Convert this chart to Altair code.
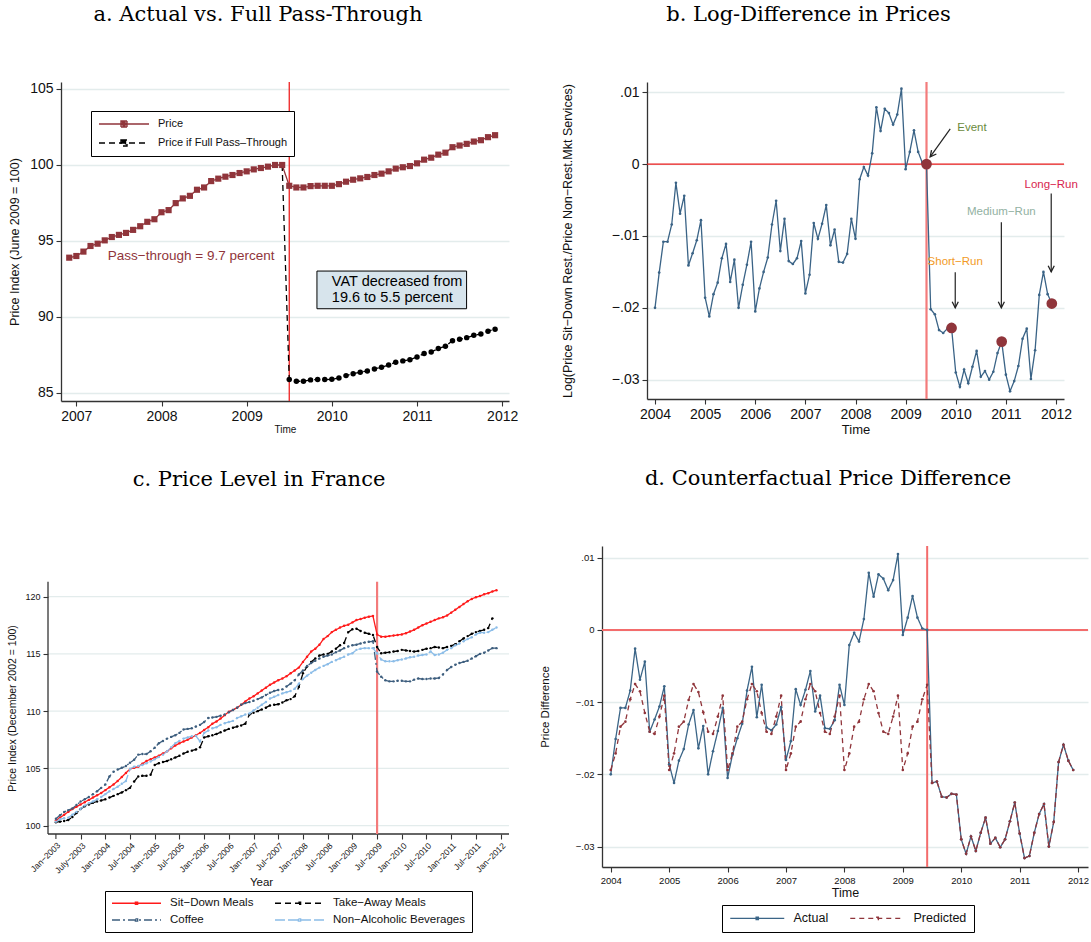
import altair as alt
import pandas as pd

SANS = "Liberation Sans"
SERIF = "DejaVu Serif"
GRID = "#e3ecec"
AXC = "#333333"
MAROON = "#90353b"

# ---------------- data: panel a ----------------
a_price = [93.90, 94.01, 94.30, 94.67, 94.82, 95.04, 95.26, 95.40, 95.53, 95.73, 95.97, 96.26,
           96.43, 96.89, 97.03, 97.49, 97.80, 97.97, 98.37, 98.52, 98.94, 99.10, 99.23, 99.34,
           99.47, 99.58, 99.71, 99.80, 99.89, 100.0, 100.0, 98.63, 98.52, 98.52, 98.61, 98.63,
           98.63, 98.63, 98.74, 98.90, 99.03, 99.12, 99.21, 99.34, 99.43, 99.58, 99.76, 99.85,
           99.93, 100.11, 100.35, 100.48, 100.68, 100.81, 101.17, 101.28, 101.39, 101.54, 101.63,
           101.83, 101.96]
a_full = [100.0, 85.88, 85.77, 85.77, 85.86, 85.88, 85.88, 85.90, 85.99, 86.14, 86.27, 86.36,
          86.45, 86.58, 86.69, 86.84, 87.02, 87.11, 87.19, 87.37, 87.59, 87.70, 87.92, 88.07,
          88.44, 88.53, 88.64, 88.79, 88.88, 89.06, 89.19]
a_series = ["Price", "Price if Full Pass\u2013Through"]
a_colors = [MAROON, "#000000"]
a_xticks = [2007, 2008, 2009, 2010, 2011, 2012]
a_yticks = [85, 90, 95, 100, 105]

# ---------------- data: panels b and d ----------------
logdiff_pre = [
    -0.0200, -0.0151, -0.0108, -0.0108, -0.0084, -0.0026, -0.0069, -0.0044, -0.0141, -0.0124, -0.0106, -0.0078,
    -0.0186, -0.0212, -0.0181, -0.0165, -0.0131, -0.0111, -0.0164, -0.0133, -0.0200, -0.0168, -0.0140, -0.0108,
    -0.0205, -0.0173, -0.0150, -0.0130, -0.0084, -0.0051, -0.0121, -0.0076, -0.0135, -0.0139, -0.0131, -0.0107,
    -0.0180, -0.0154, -0.0082, -0.0104, -0.0083, -0.0057, -0.0113, -0.0091, -0.0136, -0.0137, -0.0125, -0.0076,
    -0.0104, -0.0021, -0.0004, -0.0016, 0.0015, 0.0079, 0.0046, 0.0077, 0.0071, 0.0055, 0.0069, 0.0105,
    -0.0007, 0.0017, 0.0047, 0.0017, 0.0002, 0.0000]
b_post = [-0.0202, -0.0209, -0.0231, -0.0235, -0.0229, -0.0228,
          -0.0290, -0.0310, -0.0286, -0.0305, -0.0282, -0.0260, -0.0296, -0.0288, -0.0300, -0.0289, -0.0263, -0.0247,
          -0.0293, -0.0316, -0.0302, -0.0281, -0.0243, -0.0229, -0.0299, -0.0259, -0.0182, -0.0150, -0.0181, -0.0194]
d_post = [-0.0212, -0.0210, -0.0231, -0.0232, -0.0227, -0.0228,
          -0.0290, -0.0310, -0.0286, -0.0306, -0.0281, -0.0260, -0.0296, -0.0288, -0.0301, -0.0290, -0.0265, -0.0239,
          -0.0282, -0.0316, -0.0313, -0.0281, -0.0255, -0.0241, -0.0300, -0.0266, -0.0183, -0.0159, -0.0181, -0.0194]
d_pred_pre = [
    -0.0194, -0.0171, -0.0134, -0.0127, -0.0096, -0.0075, -0.0085, -0.0115, -0.0141, -0.0144, -0.0120, -0.0091,
    -0.0194, -0.0171, -0.0134, -0.0127, -0.0097, -0.0075, -0.0086, -0.0114, -0.0141, -0.0144, -0.0120, -0.0091,
    -0.0194, -0.0171, -0.0134, -0.0127, -0.0096, -0.0075, -0.0085, -0.0115, -0.0141, -0.0144, -0.0120, -0.0091,
    -0.0194, -0.0171, -0.0134, -0.0127, -0.0096, -0.0075, -0.0085, -0.0115, -0.0141, -0.0144, -0.0120, -0.0091,
    -0.0194, -0.0171, -0.0134, -0.0127, -0.0096, -0.0075, -0.0085, -0.0115, -0.0141, -0.0144, -0.0120, -0.0091,
    -0.0194, -0.0171, -0.0134, -0.0127, -0.0096, -0.0076]
b_events = ["Event", "Short\u2212Run", "Medium\u2212Run", "Long\u2212Run"]
b_event_t = [2009 + 5 / 12, 2009 + 11 / 12, 2010 + 11 / 12, 2011 + 11 / 12]
b_event_v = [0.0, -0.0228, -0.0247, -0.0194]
b_label_t = [2010.03, 2009.99, 2010.91, 2011.905]
b_label_v = [0.0050, -0.01366, -0.0067, -0.00286]
b_label_colors = ["#6b8a3c", "#f29a26", "#92b1a2", "#d81f4f"]
b_arrow_t1 = [2009.89, 2009.99, 2010.91, 2011.905]
b_arrow_v1 = [0.0049, -0.01505, -0.0081, -0.0041]
b_arrow_t2 = [2009.49, 2009.99, 2010.91, 2011.905]
b_arrow_v2 = [0.0010, -0.0200, -0.0200, -0.0150]
b_arrow_angle = [38, 0, 0, 0]
bd_xticks = [2004, 2005, 2006, 2007, 2008, 2009, 2010, 2011, 2012]
bd_yticks = [-0.03, -0.02, -0.01, 0, 0.01]
d_series = ["Actual", "Predicted"]
d_colors = ["#3b6587", MAROON]

# ---------------- data: panel c ----------------
c_sitdown = [
    100.45, 100.7, 100.95, 101.2, 101.45, 101.65, 101.85, 102.05, 102.25, 102.45, 102.65, 102.85,
    103.1, 103.35, 103.6, 103.9, 104.25, 104.6, 104.95, 105.05, 105.15, 105.4, 105.65, 105.8,
    105.95, 106.1, 106.3, 106.5, 106.75, 107.0, 107.2, 107.35, 107.5, 107.7, 107.9, 108.1,
    108.35, 108.6, 108.9, 109.1, 109.35, 109.65, 109.95, 110.1, 110.3, 110.55, 110.85, 111.1,
    111.3, 111.55, 111.8, 112.05, 112.3, 112.5, 112.7, 112.85, 113.05, 113.3, 113.55, 113.8,
    114.3, 114.75, 115.2, 115.45, 115.8, 116.3, 116.55, 116.9, 117.1, 117.3, 117.45, 117.55,
    117.75, 117.95, 118.05, 118.15, 118.25, 118.3, 116.7, 116.5, 116.5, 116.55, 116.6, 116.65,
    116.7, 116.8, 116.95, 117.1, 117.3, 117.5, 117.65, 117.8, 117.95, 118.1, 118.2, 118.35,
    118.6, 118.85, 119.1, 119.35, 119.6, 119.8, 119.95, 120.05, 120.2, 120.3, 120.45, 120.55]
c_takeaway = [
    100.3, 100.35, 100.4, 100.5, 100.75, 101.1, 101.45, 101.7, 101.85, 102.0, 102.1, 102.2,
    102.3, 102.45, 102.6, 102.75, 102.9, 103.1, 103.3, 103.85, 104.3, 104.35, 104.35, 104.45,
    105.3, 105.45, 105.55, 105.65, 105.8, 105.95, 106.1, 106.3, 106.45, 106.55, 106.65, 106.85,
    107.7, 107.8, 107.9, 108.0, 108.15, 108.3, 108.45, 108.55, 108.65, 108.75, 108.9, 109.7,
    109.85, 110.0, 110.15, 110.3, 110.5, 110.55, 110.6, 110.75, 110.95, 111.05, 111.3, 112.1,
    113.3, 113.9, 114.3, 114.6, 114.85, 114.95, 115.0, 115.2, 115.45, 115.75, 115.95, 116.9,
    117.15, 117.2, 117.0, 116.85, 116.75, 116.65, 115.6, 115.05, 115.1, 115.15, 115.2, 115.25,
    115.35, 115.3, 115.25, 115.2, 115.25, 115.35, 115.45, 115.5, 115.6, 115.55, 115.5, 115.6,
    115.7, 115.85, 116.1, 116.35, 116.55, 116.75, 116.9, 117.0, 117.1, 117.25, 118.1]
c_coffee = [
    100.6, 100.9, 101.2, 101.35, 101.5, 101.8, 102.1, 102.3, 102.5, 102.75, 103.0, 103.3,
    103.6, 104.3, 104.7, 104.9, 105.05, 105.2, 105.5, 105.75, 106.2, 106.25, 106.25, 106.5,
    106.8, 107.2, 107.4, 107.6, 107.75, 107.9, 108.1, 108.4, 108.45, 108.5, 108.65, 108.8,
    109.05, 109.4, 109.45, 109.5, 109.6, 109.7, 109.9, 110.1, 110.3, 110.55, 110.7, 110.8,
    110.9, 111.05, 111.2, 111.4, 111.6, 111.75, 111.85, 111.9, 112.15, 112.4, 112.7, 113.2,
    113.55, 113.95, 114.2, 114.4, 114.6, 114.75, 114.85, 114.95, 115.15, 115.3, 115.5, 115.65,
    115.75, 115.8, 115.9, 116.0, 116.05, 116.1, 113.45, 113.0, 112.7, 112.6, 112.6, 112.65,
    112.65, 112.6, 112.6, 112.75, 112.85, 112.8, 112.8, 112.85, 112.85, 112.9, 113.2, 113.6,
    113.85, 114.05, 114.2, 114.3, 114.4, 114.6, 114.8, 115.0, 115.1, 115.3, 115.5, 115.5]
c_nonalc = [
    100.35, 100.55, 100.65, 100.7, 100.95, 101.2, 101.45, 101.75, 101.95, 102.1, 102.3, 102.5,
    102.75, 103.0, 103.2, 103.4, 103.65, 103.9, 104.95, 105.15, 105.2, 105.3, 105.45, 105.6,
    105.8, 106.0, 106.2, 106.5, 106.85, 107.2, 107.4, 107.6, 107.7, 107.8, 107.85, 107.35,
    108.1, 108.3, 108.5, 108.6, 108.8, 108.95, 109.05, 109.15, 109.4, 109.55, 109.7, 109.8,
    110.05, 110.3, 110.55, 110.8, 111.1, 111.25, 111.4, 111.55, 111.65, 111.75, 111.95, 112.4,
    112.8, 113.1, 113.35, 113.6, 113.8, 113.95, 114.1, 114.3, 114.45, 114.6, 114.75, 114.95,
    115.05, 115.35, 115.45, 115.5, 115.5, 115.5, 115.05, 114.5, 114.35, 114.35, 114.35, 114.45,
    114.5, 114.6, 114.7, 114.75, 114.85, 114.9, 114.95, 115.2, 114.9, 114.95, 115.1, 115.35,
    115.5, 115.75, 115.9, 116.1, 116.3, 116.45, 116.7, 116.85, 116.85, 116.9, 117.1, 117.3]
c_series = ["Sit\u2212Down Meals", "Take\u2212Away Meals", "Coffee", "Non\u2212Alcoholic Beverages"]
c_colors = ["#ff1a1a", "#000000", "#3d5e7e", "#8cbde8"]
c_dashes = [[1, 0], [6, 4], [8, 3, 2, 3], [10, 3]]
c_xticks = [2003 + 0.5 * i for i in range(19)]
c_tick_labels = ["Jan\u22122003", "July\u22122003", "Jan\u22122004", "Jul\u22122004", "Jan\u22122005",
                 "Jul\u22122005", "Jan\u22122006", "Jul\u22122006", "Jan\u22122007", "Jul\u22122007",
                 "Jan\u22122008", "Jul\u22122008", "Jan\u22122009", "Jul\u22122009", "Jan\u22122010",
                 "Jul\u22122010", "Jan\u22122011", "Jul\u22122011", "Jan\u22122012"]
c_yticks = [100, 105, 110, 115, 120]
c_axis_x = [2002.84, 2012.17]
c_axis_y = [99.27, 121.3]
C_PX_PER_UNIT = 288 / (124.42 - 99.27)


def months(y0, m0, n):
    return [y0 + (m0 - 1 + i) / 12.0 for i in range(n)]


def axis(**kw):
    d = dict(domainColor=AXC, domainWidth=1.3, tickColor=AXC, tickWidth=1.1, tickSize=5,
             labelFont=SANS, titleFont=SANS, labelColor="#111", titleColor="#111",
             titleFontWeight="normal", grid=False, gridColor=GRID, gridWidth=1.3,
             labelFlush=False, labelOverlap=False)
    d.update(kw)
    return alt.Axis(**d)


def title(text, dx, offset):
    return alt.TitleParams(text=text, font=SERIF, fontSize=21, fontWeight="normal", color="#000",
                           anchor="middle", dx=dx, offset=offset, frame="group")


def legend_symbol(length, marker):
    # nominal symbol size is 10 px (r = 5); path drawn to the right in units of r
    u = length / 5.0
    c = u / 2.0 - 1.0
    p = "M-1,0L%.3f,0" % (u - 1.0)
    if marker == "square":
        for h in (0.6, 0.3):
            p += "M%.3f,%.3fL%.3f,%.3fL%.3f,%.3fL%.3f,%.3fZ" % (c - h, -h, c + h, -h, c + h, h, c - h, h)
    else:
        h = 0.22
        p += "M%.3f,%.3fL%.3f,%.3fL%.3f,%.3fL%.3f,%.3fZ" % (c - h, -h, c + h, -h, c + h, h, c - h, h)
    return p


LE = "datum.value == 0 ? '0' : replace(format(datum.value, '.2f'), '0.', '.')"

# ================= panel a =================
dfa_p = pd.DataFrame({"t": months(2006, 12, len(a_price)), "v": a_price, "s": a_series[0]})
dfa_f = pd.DataFrame({"t": months(2009, 6, len(a_full)), "v": a_full, "s": a_series[1]})
dfa = pd.concat([dfa_f, dfa_p], ignore_index=True)

xa = alt.X("t:Q", scale=alt.Scale(domain=[2006.82, 2012.08], nice=False, zero=False),
           axis=axis(values=a_xticks, format="d", title="Time", titleFontSize=10, labelFontSize=14,
                     labelPadding=3, titlePadding=1))
ya = alt.Y("v:Q", scale=alt.Scale(domain=[84.47, 105.46], nice=False, zero=False),
           axis=axis(values=a_yticks, title="Price Index (June 2009 = 100)", titleFontSize=12.5,
                     labelFontSize=14, grid=True, labelPadding=3, titlePadding=8))
leg_a = alt.Legend(title=None, orient="none", legendX=30, legendY=29, direction="vertical",
                   strokeColor="#000", fillColor="#fff", padding=7, symbolType=legend_symbol(50, "square"),
                   symbolSize=100, symbolStrokeWidth=1.4, labelFont=SANS, labelFontSize=11,
                   labelColor="#111", rowPadding=7, labelOffset=48)
lines_a = alt.Chart(dfa).mark_line(strokeWidth=1.3).encode(
    x=xa, y=ya,
    color=alt.Color("s:N", scale=alt.Scale(domain=a_series, range=a_colors), legend=leg_a),
    strokeDash=alt.StrokeDash("s:N", scale=alt.Scale(domain=a_series, range=[[1, 0], [6, 4]]), legend=leg_a),
)
pts_af = alt.Chart(dfa_f[dfa_f.t > 2009.45]).mark_point(filled=True, shape="circle", size=30,
                                                         color="#000", opacity=1).encode(x=xa, y=ya)
pts_ap = alt.Chart(dfa_p).mark_point(filled=True, shape="square", size=38, color=MAROON,
                                     opacity=1).encode(x=xa, y=ya)
vline_a = alt.Chart(pd.DataFrame({"t": [2009.5]})).mark_rule(color="#ee2222", strokeWidth=1.3).encode(x=xa)
pass_txt = alt.Chart(pd.DataFrame({"t": [2007.37], "v": [93.98], "txt": ["Pass\u2212through = 9.7 percent"]})).mark_text(
    align="left", baseline="middle", font=SANS, fontSize=13.5, color=MAROON).encode(x=xa, y=ya, text="txt:N")
vat_box = alt.Chart(pd.DataFrame({"t": [2009.825], "t2": [2011.582], "v": [93.02], "v2": [90.54]})).mark_rect(
    fill="#d7e4ec", stroke="#000", strokeWidth=1).encode(x=xa, x2="t2:Q", y=ya, y2="v2:Q")
vat_txt = alt.Chart(pd.DataFrame({"t": [2010.0, 2010.0], "v": [92.27, 91.24],
                                  "txt": ["VAT decreased from", "19.6 to 5.5 percent"]})).mark_text(
    align="left", baseline="middle", font=SANS, fontSize=14.5, color="#000").encode(x=xa, y=ya, text="txt:N")

panel_a = alt.layer(vline_a, lines_a, pts_af, pts_ap, pass_txt, vat_box, vat_txt).properties(
    width=448, height=319, title=title("a. Actual vs. Full Pass-Through", -27, 56))

# ================= panel b =================
dfb = pd.DataFrame({"t": months(2004, 1, 96), "v": logdiff_pre + b_post})
xb = alt.X("t:Q", scale=alt.Scale(domain=[2003.84, 2012.16], nice=False, zero=False),
           axis=axis(values=bd_xticks, format="d", title="Time", titleFontSize=13, labelFontSize=14,
                     labelPadding=3, titlePadding=2))
yb = alt.Y("v:Q", scale=alt.Scale(domain=[-0.03269, 0.01143], nice=False, zero=False),
           axis=axis(values=bd_yticks, labelExpr=LE, title="Log(Price Sit\u2212Down Rest./Price Non\u2212Rest.Mkt Services)",
                     titleFontSize=12.5, labelFontSize=14, grid=True, labelPadding=3, titlePadding=37))
hline_b = alt.Chart(pd.DataFrame({"v": [0.0]})).mark_rule(color="#ee1c1c", strokeWidth=1.3).encode(y=yb)
vline_b = alt.Chart(pd.DataFrame({"t": [2009 + 5 / 12]})).mark_rule(color="#f37b7b", strokeWidth=2.2).encode(x=xb)
line_b = alt.Chart(dfb).mark_line(color="#3a6386", strokeWidth=1.3).encode(x=xb, y=yb)
pts_b = alt.Chart(dfb).mark_point(filled=True, size=7, color="#3a6386", opacity=1).encode(x=xb, y=yb)
ev_b = alt.Chart(pd.DataFrame({"t": b_event_t, "v": b_event_v})).mark_point(
    filled=True, size=115, color=MAROON, opacity=1).encode(x=xb, y=yb)
arrows_df = pd.DataFrame({"t": b_arrow_t1, "v": b_arrow_v1, "t2": b_arrow_t2, "v2": b_arrow_v2})
arrows_b = alt.Chart(arrows_df).mark_rule(color="#222", strokeWidth=1.2).encode(x=xb, y=yb, x2="t2:Q", y2="v2:Q")
heads_df = pd.DataFrame({"t": b_arrow_t2, "v": b_arrow_v2, "ang": b_arrow_angle})
heads_b = alt.Chart(heads_df).mark_point(shape="M-0.5,-1L0,0L0.5,-1", filled=False, size=150,
                                         color="#222", strokeWidth=1.3, opacity=1).encode(
    x=xb, y=yb, angle=alt.Angle("ang:Q", scale=None))
lab_df = pd.DataFrame({"t": b_label_t, "v": b_label_v, "txt": b_events, "c": b_label_colors})
labs_b_left = alt.Chart(lab_df.iloc[:1]).mark_text(align="left", baseline="middle", font=SANS, fontSize=11.5).encode(
    x=xb, y=yb, text="txt:N", color=alt.Color("c:N", scale=None))
labs_b_ctr = alt.Chart(lab_df.iloc[1:]).mark_text(align="center", baseline="middle", font=SANS, fontSize=11.5).encode(
    x=xb, y=yb, text="txt:N", color=alt.Color("c:N", scale=None))

panel_b = alt.layer(hline_b, vline_b, line_b, pts_b, ev_b, arrows_b, heads_b, labs_b_left, labs_b_ctr).properties(
    width=417, height=317, title=title("b. Log-Difference in Prices", -47, 56))

# ================= panel c =================
c_values = [c_sitdown, c_takeaway, c_coffee, c_nonalc]
dfc = pd.concat([pd.DataFrame({"t": months(2003, 1, len(vals)), "v": vals, "s": name})
                 for name, vals in zip(c_series, c_values)], ignore_index=True)
c_label_map = "{" + ", ".join("'%s': '%s'" % (('%g' % v), lab) for v, lab in zip(c_xticks, c_tick_labels)) + "}"
xc = alt.X("t:Q", scale=alt.Scale(domain=[2003.103, 2012.17], nice=False, zero=False),
           axis=axis(values=c_xticks, labelExpr=c_label_map + "[datum.value + '']", title="Year",
                     titleFontSize=11.5, labelFontSize=8.5, labelAngle=-45, labelAlign="right",
                     labelBaseline="top", labelPadding=2, titlePadding=2, domain=False, titleX=200))
yc = alt.Y("v:Q", scale=alt.Scale(domain=[99.27, 124.42], nice=False, zero=False),
           axis=axis(values=c_yticks, title="Price Index (December 2002 = 100)", titleFontSize=10.5,
                     labelFontSize=9, labelPadding=3, titlePadding=7, domain=False, titleY=162, offset=13))
leg_c = alt.Legend(title=None, orient="none", legendX=44, legendY=345, columns=2, direction="horizontal",
                   strokeColor="#000", fillColor="#fff", padding=6, symbolType=legend_symbol(49, "dot"),
                   symbolSize=100, symbolStrokeWidth=1.4, labelFont=SANS, labelFontSize=11.5,
                   labelColor="#111", rowPadding=5, columnPadding=18, labelOffset=47)
grid_c = alt.Chart(pd.DataFrame({"t": [c_axis_x[0]] * len(c_yticks), "t2": [c_axis_x[1]] * len(c_yticks),
                                 "v": c_yticks})).mark_rule(color=GRID, strokeWidth=1.3).encode(x=xc, x2="t2:Q", y=yc)
yaxis_c = alt.Chart(pd.DataFrame({"t": [c_axis_x[0]], "v": [c_axis_y[0]], "v2": [c_axis_y[1]]})).mark_rule(
    color=AXC, strokeWidth=1.3).encode(x=xc, y=yc, y2="v2:Q")
xaxis_c = alt.Chart(pd.DataFrame({"t": [c_axis_x[0]], "t2": [c_axis_x[1]], "v": [c_axis_y[0]]})).mark_rule(
    color=AXC, strokeWidth=1.3).encode(x=xc, x2="t2:Q", y=yc)
# first tick (Jan-2003) lies left of the drawing origin, so it is drawn here
first_tick_c = alt.Chart(pd.DataFrame({"t": [c_xticks[0]], "v": [c_axis_y[0]],
                                       "v2": [c_axis_y[0] - 5 / C_PX_PER_UNIT]})).mark_rule(
    color=AXC, strokeWidth=1.1).encode(x=xc, y=yc, y2="v2:Q")
first_label_c = alt.Chart(pd.DataFrame({"t": [c_xticks[0]], "v": [c_axis_y[0] - 7 / C_PX_PER_UNIT],
                                        "txt": [c_tick_labels[0]]})).mark_text(
    angle=315, align="right", baseline="top", font=SANS, fontSize=8.5, color="#111").encode(x=xc, y=yc, text="txt:N")
vline_c = alt.Chart(pd.DataFrame({"t": [2009.5], "v": [c_axis_y[0]], "v2": [c_axis_y[1]]})).mark_rule(
    color="#f37b7b", strokeWidth=2.2).encode(x=xc, y=yc, y2="v2:Q")
lines_c = alt.Chart(dfc).mark_line(strokeWidth=1.3).encode(
    x=xc, y=yc,
    color=alt.Color("s:N", scale=alt.Scale(domain=c_series, range=c_colors), legend=leg_c),
    strokeDash=alt.StrokeDash("s:N", scale=alt.Scale(domain=c_series, range=c_dashes), legend=leg_c),
)
pts_c = [alt.Chart(dfc[dfc.s == name]).mark_point(filled=True, size=6, color=col, opacity=1).encode(x=xc, y=yc)
         for name, col in zip(c_series, c_colors)]
panel_c = alt.layer(grid_c, yaxis_c, xaxis_c, first_tick_c, first_label_c, vline_c, lines_c, *pts_c).properties(
    width=448, height=288, title=title("c. Price Level in France", -26, 56))

# ================= panel d =================
dfd = pd.concat([
    pd.DataFrame({"t": months(2004, 1, 96), "v": logdiff_pre + d_post, "s": d_series[0]}),
    pd.DataFrame({"t": months(2004, 1, 96), "v": d_pred_pre + d_post, "s": d_series[1]}),
], ignore_index=True)
xd = alt.X("t:Q", scale=alt.Scale(domain=[2003.85, 2012.17], nice=False, zero=False),
           axis=axis(values=bd_xticks, format="d", title="Time", titleFontSize=12.5, labelFontSize=9.5,
                     labelPadding=3, titlePadding=2))
yd = alt.Y("v:Q", scale=alt.Scale(domain=[-0.03283, 0.01162], nice=False, zero=False),
           axis=axis(values=bd_yticks, labelExpr=LE, title="Price Difference", titleFontSize=11.5,
                     labelFontSize=9.5, grid=True, labelPadding=3, titlePadding=25))
leg_d = alt.Legend(title=None, orient="none", legendX=120, legendY=359, columns=2, direction="horizontal",
                   strokeColor="#000", fillColor="#fff", padding=7, symbolType=legend_symbol(54, "dot"),
                   symbolSize=100, symbolStrokeWidth=1.4, labelFont=SANS, labelFontSize=12.5,
                   labelColor="#111", columnPadding=18, labelOffset=52)
hline_d = alt.Chart(pd.DataFrame({"v": [0.0]})).mark_rule(color="#f36c6c", strokeWidth=2).encode(y=yd)
vline_d = alt.Chart(pd.DataFrame({"t": [2009 + 5 / 12]})).mark_rule(color="#f36c6c", strokeWidth=2).encode(x=xd)
lines_d = alt.Chart(dfd).mark_line(strokeWidth=1.3).encode(
    x=xd, y=yd,
    color=alt.Color("s:N", scale=alt.Scale(domain=d_series, range=d_colors), legend=leg_d),
    strokeDash=alt.StrokeDash("s:N", scale=alt.Scale(domain=d_series, range=[[1, 0], [5, 4]]), legend=leg_d),
)
pts_d = [alt.Chart(dfd[dfd.s == name]).mark_point(filled=True, size=7, color=col, opacity=1).encode(x=xd, y=yd)
         for name, col in zip(d_series, d_colors)]
panel_d = alt.layer(hline_d, vline_d, lines_d, *pts_d).properties(
    width=486, height=321, title=title("d. Counterfactual Price Difference", -17, 56))

RES = dict(color="independent", strokeDash="independent")
top = alt.hconcat(panel_a, panel_b, spacing=43).resolve_scale(**RES).resolve_legend(**RES)
bottom = alt.hconcat(panel_c, panel_d, spacing=29).resolve_scale(**RES).resolve_legend(**RES)
chart = alt.concat(top, bottom, columns=1, align="none", spacing=32).resolve_scale(**RES).resolve_legend(**RES).properties(
    padding={"left": 7, "top": 3, "right": 0, "bottom": 0}, background="white"
).configure(font=SANS).configure_view(stroke="transparent", strokeWidth=0)

chart.save("out.html", embed_options={"renderer": "svg", "actions": False})
